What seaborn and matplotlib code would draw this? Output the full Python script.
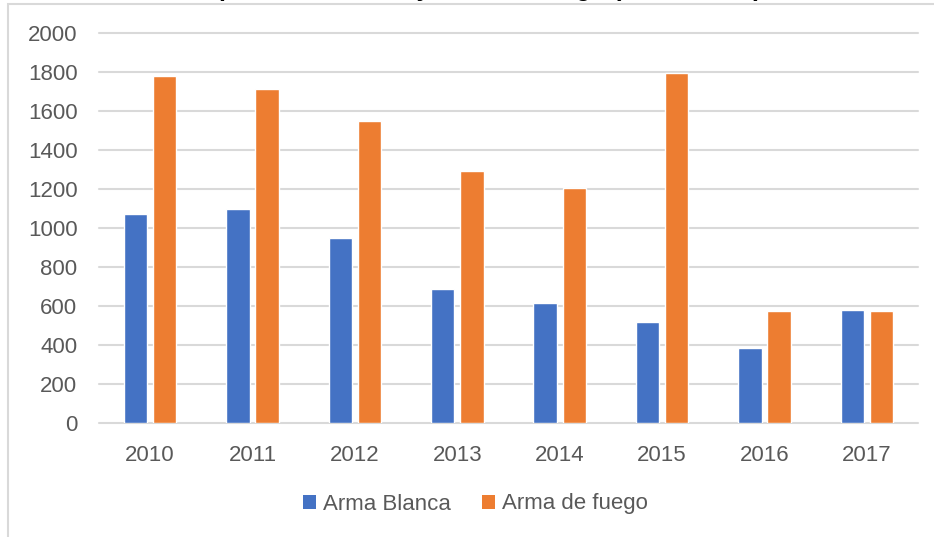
import matplotlib
matplotlib.use("Agg")
import matplotlib.pyplot as plt
from matplotlib.patches import Rectangle, Patch
import seaborn as sns
import pandas as pd

years = ["2010", "2011", "2012", "2013", "2014", "2015", "2016", "2017"]
arma_blanca = [1070, 1097, 950, 685, 617, 520, 386, 577]
arma_fuego = [1782, 1715, 1550, 1290, 1207, 1795, 572, 572]
series_names = ["Arma Blanca", "Arma de fuego"]
y_ticks = [0, 200, 400, 600, 800, 1000, 1200, 1400, 1600, 1800, 2000]
title = "Homicidios por arma blanca y arma de fuego (2010 - 2017)"

colors = {"Arma Blanca": "#4472C4", "Arma de fuego": "#ED7D31"}

df = pd.DataFrame({
    "year": years * 2,
    "value": arma_blanca + arma_fuego,
    "serie": [series_names[0]] * len(years) + [series_names[1]] * len(years),
})

sns.set_theme(style="white")
plt.rcParams["font.family"] = ["Liberation Sans", "DejaVu Sans"]

W, H = 934, 537
fig = plt.figure(figsize=(W / 100, H / 100), dpi=100)
ax = fig.add_axes([99 / W, (H - 423) / H, (918 - 99) / W, (423 - 33) / H])

sns.barplot(data=df, x="year", y="value", hue="serie", palette=colors,
            order=years, hue_order=series_names, width=0.57, gap=0.2,
            edgecolor="white", linewidth=1.0, saturation=1, legend=False, ax=ax)

ax.set_xlim(-0.5, len(years) - 0.5)
ax.set_ylim(0, 2000)
ax.set_yticks(y_ticks)
ax.set_yticklabels([str(v) for v in y_ticks])
ax.set_xlabel("")
ax.set_ylabel("")
for s in ax.spines.values():
    s.set_visible(False)
ax.yaxis.grid(True, color="#D9D9D9", linewidth=1.5)
ax.xaxis.grid(False)
ax.set_axisbelow(True)
for gl in ax.get_ygridlines():
    gl.set_clip_on(False)
ax.tick_params(axis="y", length=0, pad=15.5, labelsize=16, labelcolor="#595959")
ax.tick_params(axis="x", length=0, pad=16, labelsize=16, labelcolor="#595959")

handles = [Patch(facecolor=colors[n], edgecolor="none", label=n) for n in series_names]
fig.legend(handles=handles, loc="center", bbox_to_anchor=(475 / W, (H - 504) / H),
           ncol=2, frameon=False, fontsize=16, handlelength=0.6, handleheight=0.6,
           handletextpad=0.3, columnspacing=1.4, labelcolor="#595959")

# chart frame (partially outside the image)
fig.patches.append(Rectangle((7.5 / W, -0.2), 1.2, 0.2 + (H - 4) / H,
                             transform=fig.transFigure, fill=False,
                             edgecolor="#D9D9D9", linewidth=1.5))

# title, mostly cut off at the top of the picture (as in the reference)
fig.text(79 / W, (H + 4) / H, title, ha="left", va="baseline",
         fontsize=17.8, fontweight="bold", color="#000000")

fig.savefig("out.png", dpi=100)
